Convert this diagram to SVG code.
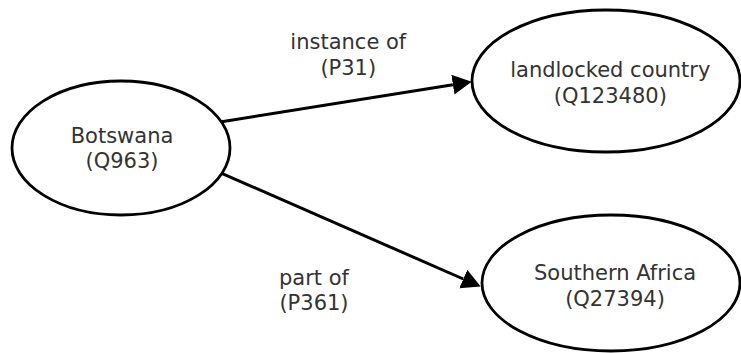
<svg xmlns="http://www.w3.org/2000/svg" width="741" height="353" viewBox="0 0 741 353">
  <style>
    .node ellipse { fill: #ffffff; stroke: #000000; stroke-width: 2.8; }
    .label { font-family: "DejaVu Sans", sans-serif; font-size: 21px; fill: #333333; text-anchor: middle; }
    .edge { stroke: #000000; stroke-width: 3; fill: none; }
  </style>
  <defs>
    <marker id="arrow" markerUnits="userSpaceOnUse" markerWidth="20" markerHeight="21" refX="0" refY="10" orient="auto">
      <path d="M0,0 L19,10 L0,20 z" fill="#000000"/>
    </marker>
  </defs>
  <rect width="741" height="353" fill="#ffffff"/>

  <g id="edges">
    <g id="edge-instance-of">
      <line class="edge" x1="221.7" y1="121.7" x2="452.9" y2="84.7" marker-end="url(#arrow)"/>
      <text class="label" x="348.3" y="49">instance of</text>
      <text class="label" x="348.3" y="74.5">(P31)</text>
    </g>
    <g id="edge-part-of">
      <line class="edge" x1="221.7" y1="173.3" x2="463.3" y2="279" marker-end="url(#arrow)"/>
      <text class="label" x="314" y="284.5">part of</text>
      <text class="label" x="314" y="309.5">(P361)</text>
    </g>
  </g>

  <g id="node-botswana" class="node">
    <ellipse cx="121" cy="148" rx="109" ry="67"/>
    <text class="label" x="122" y="142.5">Botswana</text>
    <text class="label" x="122" y="168">(Q963)</text>
  </g>

  <g id="node-landlocked" class="node">
    <ellipse cx="606" cy="81" rx="134" ry="71"/>
    <text class="label" x="610.3" y="77.3">landlocked country</text>
    <text class="label" x="610.3" y="102.8">(Q123480)</text>
  </g>

  <g id="node-southern-africa" class="node">
    <ellipse cx="611" cy="283" rx="129" ry="68"/>
    <text class="label" x="615" y="280">Southern Africa</text>
    <text class="label" x="615" y="305.5">(Q27394)</text>
  </g>
</svg>
